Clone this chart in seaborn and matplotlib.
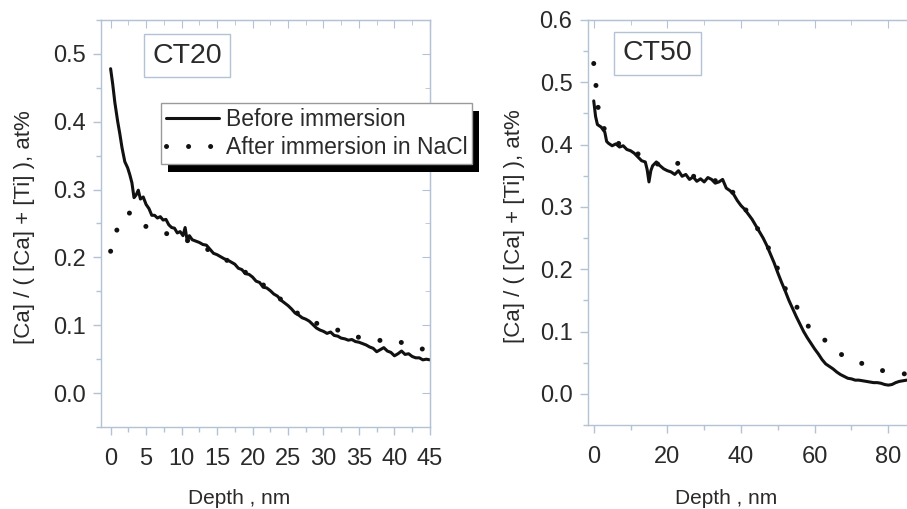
import numpy as np
import pandas as pd
import matplotlib
matplotlib.use("Agg")
import matplotlib.pyplot as plt
import matplotlib.transforms as mtransforms
from matplotlib.patches import Rectangle
from matplotlib.ticker import MultipleLocator, FormatStrFormatter
import seaborn as sns

# ---- data ----
ct20_before_depth = [0, 0.3, 0.6, 1.0, 1.3, 1.6, 2.0, 2.4, 2.7, 3.0, 3.3, 3.6, 3.9, 4.2, 4.6,
                     5.0, 5.4, 5.8, 6.2, 6.6, 7.0, 7.4, 7.8, 8.2, 8.6, 9.0, 9.4, 9.8, 10.2,
                     10.5, 10.8, 11.1, 11.5, 12.0, 12.5, 13.0, 13.5, 14.0, 14.5, 15.0, 15.5,
                     16.0, 16.5, 17.0, 17.5, 18.0, 18.5, 19.0, 19.5, 20.0, 20.5, 21.0, 21.5,
                     22.0, 22.5, 23.0, 23.5, 24.0, 24.5, 25.0, 25.5, 26.0, 26.5, 27.0, 27.5,
                     28.0, 28.5, 29.0, 29.5, 30.0, 30.5, 31.0, 31.5, 32.0, 32.5, 33.0, 33.5,
                     34.0, 34.5, 35.0, 35.5, 36.0, 36.5, 37.0, 37.5, 38.0, 38.5, 39.0, 39.5,
                     40.0, 40.5, 41.0, 41.5, 42.0, 42.5, 43.0, 43.5, 44.0, 44.5, 45.0]
ct20_before_ratio = [0.478, 0.455, 0.428, 0.400, 0.382, 0.362, 0.341, 0.332, 0.322, 0.310,
                     0.288, 0.292, 0.299, 0.286, 0.289, 0.278, 0.272, 0.262, 0.262, 0.258,
                     0.260, 0.255, 0.256, 0.248, 0.244, 0.243, 0.236, 0.238, 0.232, 0.244,
                     0.224, 0.232, 0.226, 0.224, 0.222, 0.219, 0.218, 0.212, 0.206, 0.204,
                     0.201, 0.198, 0.196, 0.193, 0.190, 0.184, 0.182, 0.176, 0.175, 0.171,
                     0.165, 0.163, 0.156, 0.155, 0.151, 0.146, 0.143, 0.137, 0.133, 0.129,
                     0.124, 0.118, 0.115, 0.111, 0.109, 0.106, 0.101, 0.096, 0.093, 0.091,
                     0.088, 0.090, 0.085, 0.084, 0.081, 0.080, 0.078, 0.079, 0.076, 0.075,
                     0.073, 0.071, 0.068, 0.066, 0.061, 0.064, 0.067, 0.062, 0.060, 0.055,
                     0.058, 0.062, 0.057, 0.058, 0.054, 0.052, 0.052, 0.049, 0.050, 0.049]

ct20_after_depth = [0, 0.5, 1.0, 1.5, 2.0, 2.8, 3.5, 4.5, 5.7, 7.0, 8.8, 10, 12, 14, 16, 18,
                    20, 22, 24, 26, 28, 30, 31.5, 33.7, 35, 36.8, 38.5, 40.1, 41.5, 43.4, 45]
ct20_after_ratio = [0.209, 0.228, 0.244, 0.255, 0.262, 0.266, 0.258, 0.248, 0.242, 0.238,
                    0.232, 0.228, 0.220, 0.210, 0.198, 0.186, 0.170, 0.156, 0.138, 0.120,
                    0.107, 0.099, 0.094, 0.089, 0.082, 0.077, 0.078, 0.079, 0.072, 0.066, 0.063]

ct50_before_depth = [0, 0.5, 1, 2, 3, 3.5, 4, 5, 6, 7, 8, 9, 10, 11, 12, 13, 14, 14.5, 15,
                     15.5, 16, 17, 18, 19, 20, 21, 22, 23, 24, 25, 26, 27, 28, 29, 30, 31,
                     32, 33, 34, 35, 36, 37, 38, 39, 40, 41, 42, 43, 44, 45, 46, 47, 48, 49,
                     50, 51, 52, 53, 54, 55, 56, 57, 58, 59, 60, 61, 62, 63, 64, 65, 66, 67,
                     68, 69, 70, 71, 72, 73, 74, 75, 76, 77, 78, 79, 80, 81, 82, 83, 84, 85]
ct50_before_ratio = [0.470, 0.445, 0.432, 0.428, 0.420, 0.405, 0.402, 0.398, 0.401, 0.396,
                     0.398, 0.392, 0.390, 0.386, 0.380, 0.374, 0.372, 0.360, 0.340, 0.358,
                     0.366, 0.372, 0.366, 0.361, 0.358, 0.356, 0.352, 0.358, 0.349, 0.352,
                     0.344, 0.348, 0.341, 0.345, 0.340, 0.347, 0.344, 0.338, 0.340, 0.344,
                     0.330, 0.326, 0.320, 0.310, 0.302, 0.296, 0.288, 0.280, 0.270, 0.260,
                     0.250, 0.238, 0.224, 0.210, 0.194, 0.179, 0.165, 0.150, 0.137, 0.124,
                     0.112, 0.100, 0.090, 0.081, 0.072, 0.064, 0.055, 0.048, 0.044, 0.040,
                     0.035, 0.031, 0.028, 0.025, 0.024, 0.022, 0.022, 0.021, 0.020, 0.019,
                     0.018, 0.018, 0.017, 0.015, 0.014, 0.015, 0.018, 0.020, 0.021, 0.022]

ct50_after_depth = [0, 0.6, 1.2, 2.5, 4, 8, 12, 16, 20, 22.9, 25, 30, 35, 38, 41, 44.2, 47,
                    50, 52.4, 56, 58.9, 62.8, 67.3, 72.3, 76.6, 80, 84.5, 90]
ct50_after_ratio = [0.530, 0.495, 0.459, 0.430, 0.410, 0.398, 0.385, 0.372, 0.362, 0.370,
                    0.352, 0.345, 0.340, 0.322, 0.298, 0.268, 0.240, 0.200, 0.163, 0.132,
                    0.102, 0.086, 0.063, 0.050, 0.040, 0.035, 0.032, 0.030]

series_labels = ["Before immersion", "After immersion in NaCl"]

# ---- style ----
sns.set_style("white")
plt.rcParams['font.family'] = ['Liberation Sans', 'DejaVu Sans']
frame_col = "#b4c2d6"
text_col = "#2a2a2a"
line_col = "#111111"
dot_style = (0, (0.01, 4.4))

fig = plt.figure(figsize=(9.07, 5.09), dpi=100)
ax1 = fig.add_axes([0.111, 0.161, 0.363, 0.800])
ax2 = fig.add_axes([0.648, 0.165, 0.372, 0.796])


def draw_panel(ax, bx, by, axx, ayy, xlim, ylim, xmaj, xmin, name, box_xy):
    sns.lineplot(x=axx, y=ayy, ax=ax, color=line_col, lw=3.6,
                 linestyle=dot_style, dash_capstyle="round", sort=False,
                 label=series_labels[1])
    sns.lineplot(x=bx, y=by, ax=ax, color=line_col, lw=2.2, sort=False,
                 label=series_labels[0])
    ax.set_xlim(*xlim)
    ax.set_ylim(*ylim)
    ax.xaxis.set_major_locator(MultipleLocator(xmaj))
    ax.xaxis.set_minor_locator(MultipleLocator(xmin))
    ax.yaxis.set_major_locator(MultipleLocator(0.1))
    ax.yaxis.set_minor_locator(MultipleLocator(0.05))
    ax.yaxis.set_major_formatter(FormatStrFormatter("%.1f"))
    for s in ax.spines.values():
        s.set_color(frame_col)
        s.set_linewidth(1.0)
    ax.tick_params(which="both", direction="out", colors=frame_col, bottom=True, left=True,
                   labelcolor=text_col, labelsize=17)
    ax.tick_params(which="major", length=6, width=1)
    ax.tick_params(which="minor", length=3.5, width=1)
    ax.tick_params(axis="x", pad=9)
    ax.tick_params(axis="y", pad=5)
    # mirrored inward ticks on top / right
    top = ax.secondary_xaxis("top")
    top.xaxis.set_major_locator(MultipleLocator(xmaj))
    top.xaxis.set_minor_locator(MultipleLocator(xmin))
    top.tick_params(which="both", direction="in", colors=frame_col, top=True, labeltop=False)
    top.tick_params(which="major", length=6)
    top.tick_params(which="minor", length=3.5)
    top.spines["top"].set_color(frame_col)
    right = ax.secondary_yaxis("right")
    right.yaxis.set_major_locator(MultipleLocator(0.1))
    right.yaxis.set_minor_locator(MultipleLocator(0.05))
    right.tick_params(which="both", direction="in", colors=frame_col, right=True,
                      labelright=False)
    right.tick_params(which="major", length=6)
    right.tick_params(which="minor", length=3.5)
    right.spines["right"].set_color(frame_col)

    ax.set_xlabel("Depth , nm", fontsize=15, color=text_col)
    ax.set_ylabel("[Ca] / ( [Ca] + [Ti] ), at%", fontsize=16, color=text_col)
    ax.get_legend().remove()
    ax.text(box_xy[0], box_xy[1], name, transform=ax.transAxes, fontsize=20.5,
            color=text_col, ha="center", va="center",
            bbox=dict(boxstyle="square,pad=0.3", fc="white", ec=frame_col, lw=1))


draw_panel(ax1, ct20_before_depth, ct20_before_ratio, ct20_after_depth, ct20_after_ratio,
           (-1.4, 45), (-0.05, 0.55), 5, 2.5, "CT20", (0.262, 0.912))
draw_panel(ax2, ct50_before_depth, ct50_before_ratio, ct50_after_depth, ct50_after_ratio,
           (-1.63, 90), (-0.05, 0.6), 20, 10, "CT50", (0.207, 0.918))

ax1.xaxis.set_label_coords(0.42, -0.152)
ax1.yaxis.set_label_coords(-0.2, 0.49)
ax2.xaxis.set_label_coords(0.41, -0.158)
ax2.yaxis.set_label_coords(-0.187, 0.49)

# legend (solid first, dotted second)
h, l = ax1.get_legend_handles_labels()
order = [l.index(series_labels[0]), l.index(series_labels[1])]
leg = fig.legend([h[i] for i in order], [l[i] for i in order],
                 loc="upper left", bbox_to_anchor=(161 / 907, 1 - 103 / 509),
                 fontsize=16.5, frameon=True, fancybox=False, framealpha=1,
                 edgecolor="#9a9a9a", handlelength=2.3, handletextpad=0.3,
                 labelspacing=0.2, borderpad=0.22, borderaxespad=0)
leg.get_frame().set_linewidth(1.0)
for t in leg.get_texts():
    t.set_color(text_col)

fig.canvas.draw()
bb = leg.get_window_extent()
shadow = Rectangle((bb.x0 + 7, bb.y0 - 8), bb.width, bb.height,
                   transform=mtransforms.IdentityTransform(),
                   facecolor="black", edgecolor="none", zorder=leg.get_zorder() - 0.1)
fig.add_artist(shadow)

fig.savefig("out.png", dpi=100)
